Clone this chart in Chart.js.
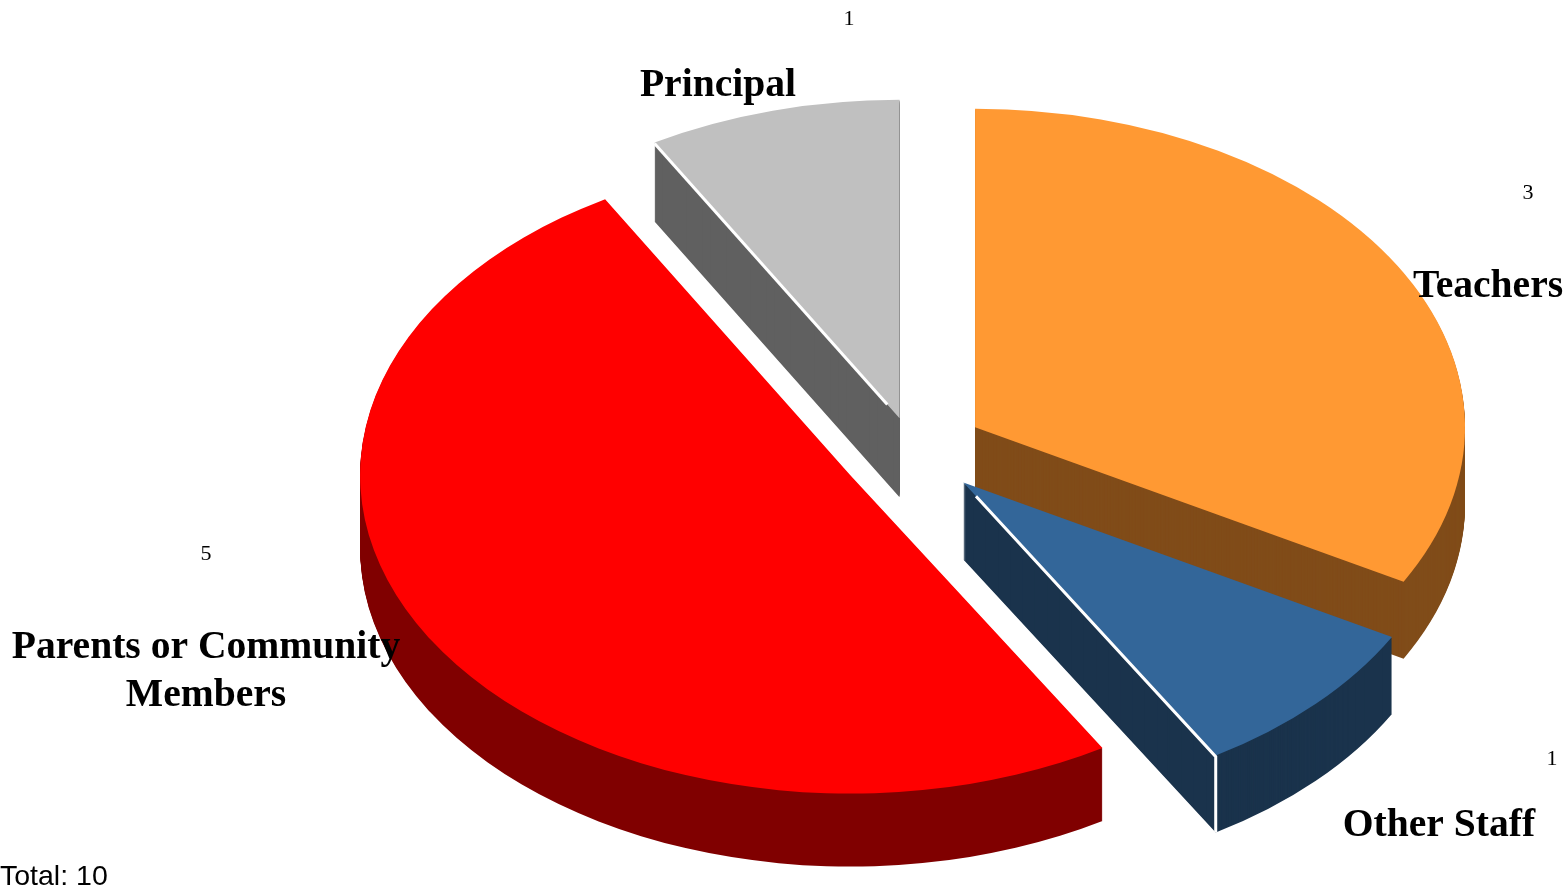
<!DOCTYPE html>
<html>
<head>
<meta charset="utf-8">
<title>Pie</title>
<script src="https://cdn.jsdelivr.net/npm/chart.js@4/dist/chart.umd.js"></script>
<style>
html, body { margin: 0; padding: 0; background: #ffffff; overflow: hidden; }
canvas { display: block; }
</style>
</head>
<body>
<canvas id="pieChart" width="1568" height="893"></canvas>
<script>
// data
var categories = ['Teachers', 'Other Staff', 'Parents or Community Members', 'Principal']
var counts = [3, 1, 5, 1]
var totalLabel = 'Total: 10'

// styles
var topColors = ['#ff9933', '#336699', '#ff0000', '#c0c0c0']
var wallColors = ['#804c19', '#1a334c', '#800000', '#606060']
var explode = [72, 70, 73, 52]       // how far each slice is pulled out
var angleShift = [0, 11, 5, 6, 0]    // degrees, perspective shift of each slice boundary
var whiteEdge = ['', 'end', '', 'start']
var squash = 0.65
var depths = [77, 77, 73, 79]
var serif = '"Liberation Serif", "Times New Roman", serif'

// where the text sits: [x, y] centre / baseline
var nameLines = [['Teachers'], ['Other Staff'], ['Parents or Community', 'Members'], ['Principal']]
var namePos = [[1488, 297], [1439, 836], [206, 658], [718, 96]]
var countPos = [[1528, 199], [1552, 765], [206, 560], [849, 25]]

function rad(d) { return d * Math.PI / 180 }

// draws the pie as a squashed, extruded, exploded 3D pie
var pie3d = {
    id: 'pie3d',
    beforeDatasetsDraw: function (chart) {
        var ctx = chart.ctx
        var arcs = chart.getDatasetMeta(0).data
        var order = [3, 0, 2, 1]
        order.forEach(function (i) {
            var arc = arcs[i]
            var saved = { start: arc.startAngle, end: arc.endAngle, circ: arc.circumference, options: arc.options }
            arc.startAngle = saved.start + rad(angleShift[i])
            arc.endAngle = saved.end + rad(angleShift[i + 1])
            arc.circumference = arc.endAngle - arc.startAngle
            var mid = (arc.startAngle + arc.endAngle) / 2
            var dx = Math.cos(mid) * explode[i]
            var dy = Math.sin(mid) * explode[i]

            function place(extraY) {
                ctx.translate(arc.x + dx, arc.y + dy * squash + extraY)
                ctx.scale(1, squash)
                ctx.translate(-arc.x, -arc.y)
            }

            // walls
            arc.options = Object.assign({}, saved.options, { backgroundColor: wallColors[i], borderWidth: 0 })
            for (var d = depths[i]; d > 0; d--) {
                ctx.save()
                place(d)
                arc.draw(ctx)
                ctx.restore()
            }
            // top
            arc.options = Object.assign({}, saved.options, { backgroundColor: topColors[i], borderWidth: 0 })
            ctx.save()
            place(0)
            arc.draw(ctx)
            ctx.restore()

            // white seam along the visible radial edge
            if (whiteEdge[i]) {
                var a = whiteEdge[i] == 'end' ? arc.endAngle : arc.startAngle
                var ax = arc.x + dx
                var ay = arc.y + dy * squash
                var ex = ax + Math.cos(a) * arc.outerRadius
                var ey = ay + Math.sin(a) * arc.outerRadius * squash
                ctx.save()
                ctx.strokeStyle = '#ffffff'
                ctx.lineWidth = 3
                ctx.beginPath()
                ctx.moveTo(ax + (ex - ax) * 0.05, ay + (ey - ay) * 0.05)
                ctx.lineTo(ex, ey + 1)
                if (whiteEdge[i] == 'end') ctx.lineTo(ex, ey + depths[i])
                ctx.stroke()
                ctx.restore()
            }

            arc.startAngle = saved.start
            arc.endAngle = saved.end
            arc.circumference = saved.circ
            arc.options = saved.options
        })
        return false
    },
    afterDraw: function (chart) {
        var ctx = chart.ctx
        ctx.save()
        ctx.fillStyle = '#000000'
        ctx.textAlign = 'center'
        ctx.textBaseline = 'alphabetic'
        ctx.font = 'bold 39.6px ' + serif
        nameLines.forEach(function (lines, i) {
            lines.forEach(function (line, n) {
                ctx.fillText(line, namePos[i][0], namePos[i][1] + n * 48)
            })
        })
        ctx.font = '22px ' + serif
        counts.forEach(function (v, i) {
            ctx.fillText(String(v), countPos[i][0], countPos[i][1])
        })
        ctx.textAlign = 'left'
        ctx.font = '28.5px "Liberation Sans", Arial, sans-serif'
        ctx.fillText(totalLabel, 0, 885)
        ctx.restore()
    }
}

new Chart(document.getElementById('pieChart').getContext('2d'), {
    type: 'pie',
    data: {
        labels: categories,
        datasets: [{
            data: counts,
            backgroundColor: topColors,
            borderWidth: 0
        }]
    },
    options: {
        responsive: false,
        animation: false,
        radius: 490,
        layout: { padding: { left: 258, top: 9 } },
        plugins: {
            legend: { display: false },
            tooltip: { enabled: false }
        }
    },
    plugins: [pie3d]
})
</script>
</body>
</html>
